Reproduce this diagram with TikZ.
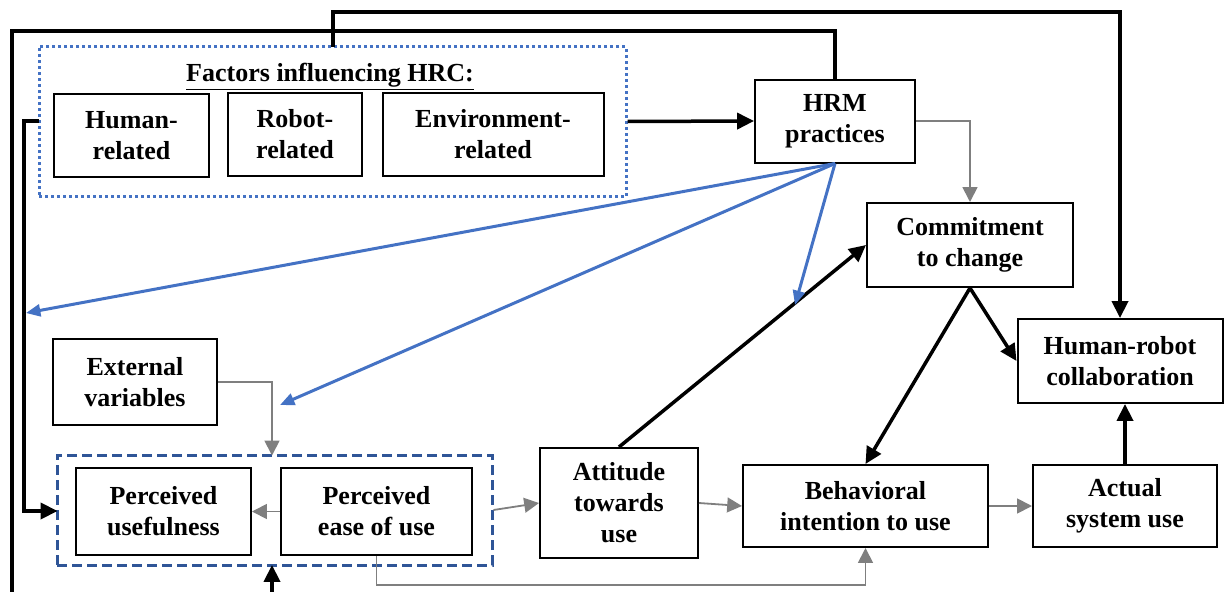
\documentclass[tikz,border=0pt]{standalone}
\usepackage{fontspec}
\setmainfont{Liberation Serif}
\usetikzlibrary{arrows.meta,calc}

\definecolor{hrcblue}{HTML}{4472C4}
\definecolor{hrcnavy}{HTML}{2F5597}
\definecolor{hrcgray}{HTML}{7F7F7F}

\newlength\pxu
\setlength\pxu{0.025cm}

\tikzset{
  box/.style={draw, line width=2\pxu, align=center, inner sep=0pt,
    font=\fontsize{18.5}{22}\selectfont\bfseries},
  blk/.style={-{Triangle[length=0.42cm,width=0.4cm]}, line width=3.5\pxu},
  gry/.style={-{Triangle[length=0.37cm,width=0.37cm]}, line width=1.8\pxu, draw=hrcgray},
  blu/.style={-{Triangle[length=0.36cm,width=0.3cm]}, line width=3\pxu, draw=hrcblue}
}

\begin{document}
\begin{tikzpicture}[x=0.025cm, y=-0.025cm]
    \useasboundingbox (0,0) rectangle (1224,592);

    % Factors influencing HRC
    \node[draw=hrcblue, line width=3\pxu, dash pattern=on 3\pxu off 3\pxu,
          minimum width=587\pxu, minimum height=150\pxu] (factors) at (332.5,121.5) {};
    \node[font=\fontsize{18.5}{22}\selectfont\bfseries] (title) at (330,77) {\underline{Factors influencing HRC:}};
    \node[box, minimum width=155\pxu, minimum height=83\pxu] (human) at (131.5,135.5) {Human-\\related};
    \node[box, minimum width=134\pxu, minimum height=83\pxu] (robot) at (295,134.5) {Robot-\\related};
    \node[box, minimum width=221\pxu, minimum height=83\pxu] (envir) at (493,134.5) {Environment-\\related};

    % HRM side
    \node[box, minimum width=160\pxu, minimum height=83\pxu] (hrm) at (835,121) {HRM\\practices};
    \node[box, minimum width=206\pxu, minimum height=84\pxu] (commit) at (970,245) {Commitment\\to change};
    \node[box, minimum width=205\pxu, minimum height=84\pxu] (hrc) at (1120,361) {Human-robot\\collaboration};

    % TAM
    \node[box, minimum width=164\pxu, minimum height=86\pxu] (extvar) at (135,382) {External\\variables};
    \node[draw=hrcnavy, line width=3\pxu, dash pattern=on 10\pxu off 5\pxu,
          minimum width=435\pxu, minimum height=110\pxu] (pbox) at (274.5,510) {};
    \node[box, minimum width=175\pxu, minimum height=87\pxu] (useful) at (163.5,511.5) {Perceived\\usefulness};
    \node[box, minimum width=191\pxu, minimum height=87\pxu] (ease) at (376.5,511.5) {Perceived\\ease of use};
    \node[box, minimum width=158\pxu, minimum height=110\pxu] (attit) at (619,503) {Attitude\\towards\\use};
    \node[box, minimum width=245\pxu, minimum height=82\pxu] (intent) at (865.5,506) {Behavioral\\intention to use};
    \node[box, minimum width=184\pxu, minimum height=82\pxu] (actual) at (1125,506) {Actual\\system use};

    % Free ends
    \coordinate (ftop) at (333,46.5);
    \coordinate (fleft) at (39,121);
    \coordinate (pleft) at (57.5,511);
    \coordinate (ptop) at (272,455.5);
    \coordinate (pbot) at (272,565);
    \coordinate (bl1) at (26,313);
    \coordinate (bl2) at (280,405);
    \coordinate (bl3) at (795,305);

    \begin{scope}
    \clip (0,0) rectangle (1224,592);

    % Black links
    \draw[blk] (ftop) -- (333,12) -| (hrc.north);
    \draw[blk] (hrm.north) |- (12,31) |- (272,640) -- (pbot);
    \draw[blk] (fleft) -- (24,121) |- (pleft);
    \draw[blk] (factors.east) -- (hrm.west);
    \draw[blk] (attit.north) -- (commit.west);
    \draw[blk] (commit.south) -- (hrc.west);
    \draw[blk] (commit.south) -- (intent.north);
    \draw[blk] (actual.north) -- (actual.north |- hrc.south);

    % Blue links
    \draw[blu] (hrm.south) -- (bl1);
    \draw[blu] (hrm.south) -- (bl2);
    \draw[blu] (hrm.south) -- (bl3);

    % Gray links
    \draw[gry] (hrm.east) -| (commit.north);
    \draw[gry] (extvar.east) -| (ptop);
    \draw[gry] (ease.west) -- (useful.east);
    \draw[gry] (pbox.east) -- (attit.west);
    \draw[gry] (attit.east) -- (intent.west);
    \draw[gry] (intent.east) -- (actual.west);
    \draw[gry] (ease.south) -- ++(0,29) -| (intent.south);
    \end{scope}
\end{tikzpicture}
\end{document}
